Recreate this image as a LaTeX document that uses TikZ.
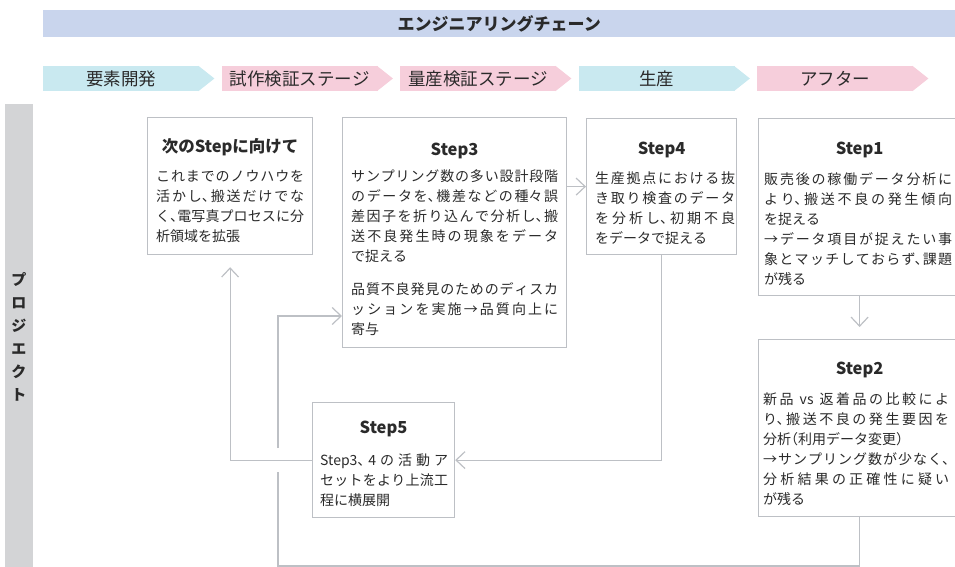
\documentclass[tikz,border=0pt]{standalone}
\usepackage{fontspec}
\setmainfont[RawFeature=+halt]{Noto Sans CJK JP}
\usetikzlibrary{positioning,arrows.meta}
\XeTeXlinebreaklocale "ja"
\XeTeXlinebreakskip=0pt plus 1fil
\definecolor{chainblue}{HTML}{C9D5ED}
\definecolor{stagecyan}{HTML}{C9E9F0}
\definecolor{stagepink}{HTML}{F6CEDB}
\definecolor{barg}{HTML}{D3D4D6}
\definecolor{lineg}{HTML}{BDC0C5}
\definecolor{inkc}{HTML}{2A2A2A}
\tikzset{
  stage/.style={minimum height=25pt, minimum width=156pt, inner sep=0pt, text=inkc, font=\fontsize{17.5}{17.5}\selectfont},
  stepbox/.style={draw=lineg, line width=1.2pt, inner sep=0pt, anchor=north west},
  steptitle/.style={inner sep=0pt, text=inkc, font=\bfseries\fontsize{16.5}{16.5}\selectfont},
  stepbody/.style={inner sep=0pt, text=inkc, font=\fontsize{14}{20}\selectfont,
    execute at begin node={\parindent=0pt\parfillskip=0pt plus 1fill}},
  link/.style={draw=lineg, line width=1.2pt, -{Straight Barb[length=9pt,width=17pt]}},
}

\begin{document}
\begin{tikzpicture}[x=1pt, y=-1pt]
  \useasboundingbox (0,0) rectangle (955,567);

  %%%%% HEADER %%%%%
  \node[fill=chainblue, minimum width=912pt, minimum height=27pt, inner sep=0pt, anchor=north west,
    text=inkc, font=\bfseries\fontsize{17}{17}\selectfont] (chain) at (43,10) {エンジニアリングチェーン};

  \foreach \nm/\lbl/\col [count=\i from 0] in {dev/要素開発/stagecyan, proto/試作検証ステージ/stagepink, mass/量産検証ステージ/stagepink, prod/生産/stagecyan, after/アフター/stagepink}{
    \node[stage, fill=\col, anchor=west] (\nm) at ({43+178.5*\i},78.5) {\lbl};
    \fill[\col] ([xshift=-1pt]\nm.north east) -- ([xshift=15pt]\nm.east) -- ([xshift=-1pt]\nm.south east) -- cycle;
  }

  %%%%% SIDE BAR %%%%%
  \fill[barg] (5,104) rectangle (33,567);
  \node[inner sep=0pt, align=center, text=inkc, font=\bfseries\fontsize{15}{23}\selectfont] (proj) at (19,337) {プ\\ロ\\ジ\\エ\\ク\\ト};

  %%%%% STEPS %%%%%
  \node[stepbox, minimum width=165pt, minimum height=137pt] (nxt) at (147,117) {};
  \node[stepbox, minimum width=224pt, minimum height=230pt] (s3) at (342,117) {};
  \node[stepbox, minimum width=150pt, minimum height=136pt] (s4) at (586,118) {};
  \node[stepbox, minimum width=202pt, minimum height=177pt] (s1) at (758,118) {};
  \node[stepbox, minimum width=202pt, minimum height=177pt] (s2) at (758,339) {};
  \node[stepbox, minimum width=142pt, minimum height=115pt] (s5) at (312,402) {};

  \node[steptitle, below=21pt of nxt.north] (nxtT) {次のStepに向けて};
  \node[steptitle, below=26pt of s3.north] (s3T) {Step3};
  \node[steptitle, below=24pt of s4.north] (s4T) {Step4};
  \node[steptitle, below=24pt of s1.north] (s1T) {Step1};
  \node[steptitle, below=23pt of s2.north] (s2T) {Step2};
  \node[steptitle, below=19pt of s5.north] (s5T) {Step5};

  \node[stepbody, text width=148pt, below right=53pt and 9pt of nxt.north west] (nxtB) {これまでのノウハウを\break 活かし、搬送だけでな\break く、電写真プロセスに分\break 析領域を拡張};
  \node[stepbody, text width=207pt, below right=53pt and 9pt of s3.north west] (s3B) {サンプリング数の多い設計段階\break のデータを、機差などの種々誤\break 差因子を折り込んで分析し、搬\break 送不良発生時の現象をデータ\break で捉える\par\vspace{13pt}品質不良発見のためのディスカ\break ッションを実施→品質向上に\break 寄与};
  \node[stepbody, text width=140pt, below right=54pt and 9pt of s4.north west] (s4B) {生産拠点における抜\break き取り検査のデータ\break を分析し、初期不良\break をデータで捉える};
  \node[stepbody, text width=188pt, below right=54pt and 6pt of s1.north west] (s1B) {販売後の稼働データ分析に\break より、搬送不良の発生傾向\break を捉える\par →データ項目が捉えたい事\break 象とマッチしておらず、課題\break が残る};
  \node[stepbody, text width=186pt, below right=53pt and 5pt of s2.north west] (s2B) {新品\hspace{6pt}vs\hspace{6pt}返着品の比較によ\break り、搬送不良の発生要因を\break 分析（利用データ変更）\par →サンプリング数が少なく、\break 分析結果の正確性に疑い\break が残る};
  \node[stepbody, text width=128pt, below right=52pt and 8pt of s5.north west] (s5B) {Step3、4の活動ア\break セットをより上流工\break 程に横展開};

  %%%%% LINKS %%%%%
  \draw[link, shorten >=12pt] (s1.south) -- (s2.north);
  \draw[link] (s4.west -| s3.east) -- (s4.west);
  \draw[link] (s4.south) |- (s5.east);
  \draw[link, shorten >=12pt] (s5.west) -| (nxt.south);

  \coordinate (lowturn) at (278,566);
  \coordinate (gapB) at (278,472);
  \coordinate (gapT) at (278,448);
  \coordinate (s3in) at (278,316);
  \draw[link, -] (s2.south) |- (lowturn) -- (gapB);
  \draw[link] (gapT) -- (s3in) -- (s3in -| s3.west);
\end{tikzpicture}
\end{document}
